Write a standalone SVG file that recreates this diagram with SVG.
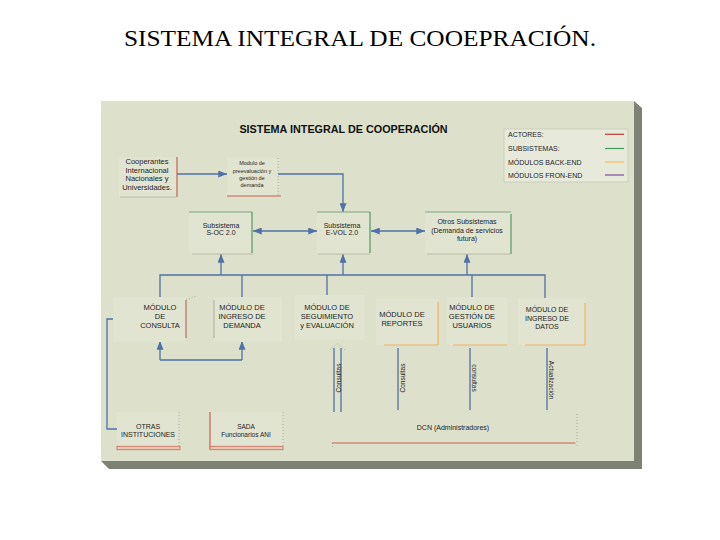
<svg xmlns="http://www.w3.org/2000/svg" width="720" height="540" viewBox="0 0 720 540">
<style>
.t{font-family:"Liberation Sans",Arial,sans-serif;fill:#1e1e1e;text-anchor:middle}
.s55{font-size:5.5px}.s65{font-size:6.5px}.s7{font-size:7px}.s75{font-size:7.5px}
.lg{font-family:"Liberation Sans",Arial,sans-serif;fill:#1e1e1e;font-size:7px}
.face{fill:#e1e4d1}
.con{fill:none;stroke:#4f72a6;stroke-width:1.3}
.red{stroke:#c9604f;stroke-width:1.2;fill:none}
.grn{stroke:#4e9a63;stroke-width:1.2;fill:none}
.org{stroke:#f0b460;stroke-width:1.2;fill:none}
.gry{stroke:#b7bca7;stroke-width:1;fill:none}
.dot{stroke:#9a9e8c;stroke-width:0.8;fill:none;stroke-dasharray:1 2}
</style>
<defs>
<marker id="ar" viewBox="0 0 10 8" refX="10" refY="4" markerWidth="9" markerHeight="7" markerUnits="userSpaceOnUse" orient="auto-start-reverse">
<path d="M0,0 L10,4 L0,8 Z" fill="#4f72a6"/>
</marker>
</defs>
<rect width="720" height="540" fill="#ffffff"/>
<text x="360" y="46" font-family="'Liberation Serif','Times New Roman',serif" font-size="23" text-anchor="middle" fill="#000" textLength="472" lengthAdjust="spacingAndGlyphs">SISTEMA INTEGRAL DE COOEPRACIÓN.</text>

<g id="panel">
<polygon points="634,101 642,108 642,469 109,469 101,461 634,461" fill="#7e8274"/>
<rect x="101" y="101" width="533" height="360" fill="#dde0cb"/>
<text x="343.5" y="133" font-family="'Liberation Sans',Arial,sans-serif" font-size="10.8" font-weight="bold" text-anchor="middle" fill="#111">SISTEMA INTEGRAL DE COOPERACIÓN</text>
</g>

<g id="legend">
<rect x="504" y="129" width="124" height="53" fill="#e7eadb" stroke="#c6cab6" stroke-width="0.8"/>
<text class="lg" x="508" y="136.5">ACTORES:</text>
<text class="lg" x="508" y="151">SUBSISTEMAS:</text>
<text class="lg" x="508" y="164.5">MÓDULOS BACK-END</text>
<text class="lg" x="508" y="177.5">MÓDULOS FRON-END</text>
<line x1="605" y1="134.3" x2="624" y2="134.3" stroke="#c0392b" stroke-width="1.2"/>
<line x1="605" y1="148.5" x2="624" y2="148.5" stroke="#3f9a5a" stroke-width="1.2"/>
<line x1="605" y1="162" x2="624" y2="162" stroke="#f2c14e" stroke-width="1.2"/>
<line x1="605" y1="175" x2="624" y2="175" stroke="#7a4fa0" stroke-width="1.2"/>
</g>

<g id="connectors">
<line class="con" x1="177" y1="174" x2="227" y2="174" marker-end="url(#ar)"/>
<path class="con" d="M278,174 H343 V212" marker-end="url(#ar)"/>
<line class="con" x1="253" y1="231" x2="317" y2="231" marker-start="url(#ar)" marker-end="url(#ar)"/>
<line class="con" x1="371" y1="231" x2="425" y2="231" marker-start="url(#ar)" marker-end="url(#ar)"/>
<path class="con" d="M160,300 V275 H545 V298"/>
<line class="con" x1="242" y1="275" x2="242" y2="297"/>
<line class="con" x1="327" y1="275" x2="327" y2="295"/>
<line class="con" x1="472" y1="275" x2="472" y2="297"/>
<line class="con" x1="221" y1="275" x2="221" y2="254" marker-end="url(#ar)"/>
<line class="con" x1="343" y1="275" x2="343" y2="254" marker-end="url(#ar)"/>
<line class="con" x1="467" y1="275" x2="467" y2="254" marker-end="url(#ar)"/>
<path class="con" d="M160,360 H242"/>
<line class="con" x1="160" y1="360" x2="160" y2="341" marker-end="url(#ar)"/>
<line class="con" x1="242" y1="360" x2="242" y2="341" marker-end="url(#ar)"/>
<path class="con" d="M117,429 H107 V319 H136" marker-end="url(#ar)"/>
<line class="con" x1="334" y1="348" x2="334" y2="412"/>
<line class="con" x1="341" y1="348" x2="341" y2="412"/>
<polyline class="dot" points="330,350 337.5,344 345,350"/>
<line class="con" x1="398" y1="348" x2="398" y2="410"/>
<line class="con" x1="470" y1="348" x2="470" y2="410"/>
<line class="con" x1="547" y1="348" x2="547" y2="410"/>
<text class="t s65" transform="translate(340.5,378) rotate(-90)">Consultas</text>
<text class="t s65" transform="translate(405,378) rotate(-90)">Consultas</text>
<text class="t s65" transform="translate(472,378) rotate(90)">consultas</text>
<text class="t s65" transform="translate(549,380) rotate(90)">Actualización</text>
</g>

<g id="cooperantes">
<rect class="face" x="119" y="157" width="58" height="40"/>
<line class="red" x1="177" y1="157" x2="177" y2="197"/>
<line class="gry" x1="120" y1="197" x2="177" y2="197"/>
<text class="t s75" x="147" y="164">Cooperantes</text>
<text class="t s75" x="147" y="172.5">Internacional</text>
<text class="t s75" x="147" y="181">Nacionales y</text>
<text class="t s75" x="147" y="190">Universidades.</text>
</g>

<g id="preevaluacion">
<rect class="face" x="227" y="158" width="51" height="38"/>
<line class="dot" x1="278" y1="158" x2="278" y2="196"/>
<line class="red" x1="227" y1="196" x2="281" y2="196"/>
<text class="t s55" x="252" y="165">Modulo de</text>
<text class="t s55" x="252" y="172.5">preevaluación y</text>
<text class="t s55" x="252" y="179.5">gestión de</text>
<text class="t s55" x="252" y="186.5">demanda</text>
</g>

<g id="soc">
<rect class="face" x="189" y="212" width="63" height="42"/>
<line x1="189" y1="212" x2="252" y2="212" stroke="#7fa582" stroke-width="1"/>
<line class="grn" x1="252" y1="212" x2="252" y2="253"/>
<line class="gry" x1="192" y1="254" x2="253" y2="254"/>
<text class="t s7" x="221" y="227.5">Subsistema</text>
<text class="t s7" x="221" y="235">S-OC 2.0</text>
</g>

<g id="evol">
<rect class="face" x="317" y="212" width="53" height="42"/>
<line x1="317" y1="212" x2="370" y2="212" stroke="#7fa582" stroke-width="1"/>
<line class="grn" x1="370" y1="212" x2="370" y2="253"/>
<line class="gry" x1="318" y1="254" x2="370" y2="254"/>
<text class="t s7" x="342" y="227.5">Subsistema</text>
<text class="t s7" x="342" y="235">E-VOL 2.0</text>
</g>

<g id="otros">
<rect class="face" x="425" y="212" width="86" height="42"/>
<line x1="425" y1="212" x2="511" y2="212" stroke="#7fa582" stroke-width="1"/>
<line class="grn" x1="511" y1="214" x2="511" y2="254"/>
<line class="gry" x1="427" y1="254" x2="511" y2="254"/>
<text class="t s7" x="467" y="224">Otros Subsistemas</text>
<text class="t s7" x="467" y="232.5">(Demanda de servicios</text>
<text class="t s7" x="467" y="241">futura)</text>
</g>

<g id="consulta">
<rect class="face" x="113" y="297" width="73" height="45"/>
<line x1="186" y1="300" x2="186" y2="338" stroke="#a8584a" stroke-width="1"/>
<line class="dot" x1="186" y1="300" x2="196" y2="296"/>
<text class="t s75" x="160" y="309.5">MÓDULO</text>
<text class="t s75" x="160" y="318.5">DE</text>
<text class="t s75" x="160" y="327.5">CONSULTA</text>
</g>

<g id="ingreso-demanda">
<rect class="face" x="214" y="297" width="68" height="45"/>
<line x1="214" y1="300" x2="214" y2="338" stroke="#a9ad99" stroke-width="1"/>
<text class="t s75" x="242" y="309.5">MÓDULO DE</text>
<text class="t s75" x="242" y="318.5">INGRESO DE</text>
<text class="t s75" x="242" y="327.5">DEMANDA</text>
</g>

<g id="seguimiento">
<rect class="face" x="295" y="295" width="70" height="45"/>
<text class="t s75" x="327" y="309.5">MÓDULO DE</text>
<text class="t s75" x="327" y="318.5">SEGUIMIENTO</text>
<text class="t s75" x="327" y="327.5">y EVALUACIÓN</text>
</g>

<g id="reportes">
<rect class="face" x="376" y="299" width="62" height="46"/>
<line class="org" x1="438" y1="302" x2="438" y2="345"/>
<line class="org" x1="384" y1="345" x2="438" y2="345"/>
<text class="t s75" x="402" y="316.5">MÓDULO DE</text>
<text class="t s75" x="402" y="325.5">REPORTES</text>
</g>

<g id="gestion">
<rect class="face" x="447" y="297" width="60" height="48"/>
<line class="org" x1="453" y1="345" x2="507" y2="345"/>
<text class="t s75" x="472" y="310">MÓDULO DE</text>
<text class="t s75" x="472" y="319">GESTIÓN DE</text>
<text class="t s75" x="472" y="328">USUARIOS</text>
</g>

<g id="ingreso-datos">
<rect class="face" x="518" y="298" width="67" height="47"/>
<line class="org" x1="585" y1="303" x2="585" y2="345"/>
<line class="org" x1="525" y1="345" x2="585" y2="345"/>
<text class="t s7" x="547" y="312">MÓDULO DE</text>
<text class="t s7" x="547" y="320.5">INGRESO DE</text>
<text class="t s7" x="547" y="328.5">DATOS</text>
</g>

<g id="otras-instituciones">
<rect class="face" x="117" y="412" width="62" height="35"/>
<line class="dot" x1="179" y1="412" x2="179" y2="446"/>
<rect x="117" y="446.3" width="63" height="3.4" fill="#ebc7b2" stroke="#c86a5a" stroke-width="0.8"/>
<text class="t s7" x="148" y="428.5">OTRAS</text>
<text class="t s7" x="148" y="436.5">INSTITUCIONES</text>
</g>

<g id="sada">
<rect class="face" x="210" y="412" width="73" height="35"/>
<line class="red" x1="210" y1="412" x2="210" y2="449"/>
<rect x="210" y="446.3" width="73" height="3.4" fill="#ebc7b2" stroke="#c86a5a" stroke-width="0.8"/>
<line class="dot" x1="283" y1="412" x2="283" y2="446"/>
<text class="t s65" x="246" y="428.5">SADA</text>
<text class="t s65" x="246" y="436.5">Funcionarios ANI</text>
</g>

<g id="dcn">
<line class="red" x1="332" y1="443" x2="575" y2="443"/>
<line class="dot" x1="577" y1="414" x2="577" y2="442"/>
<line class="dot" x1="575" y1="443" x2="578" y2="447"/>
<line class="dot" x1="332" y1="443" x2="333" y2="448"/>
<text class="t s7" x="453" y="429.5">DCN (Administradores)</text>
</g>
</svg>
